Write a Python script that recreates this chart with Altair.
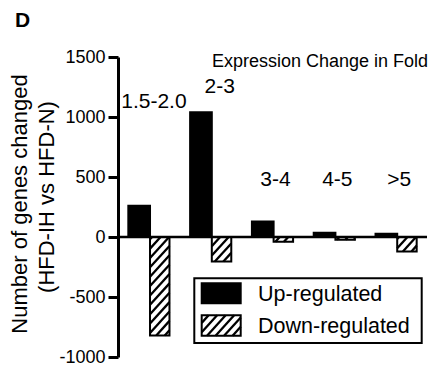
import altair as alt
import pandas as pd

# Fold-change bins and number of genes changed (HFD-IH vs HFD-N)
bins = ["1.5-2.0", "2-3", "3-4", "4-5", ">5"]
up_regulated = [260, 1040, 130, 35, 28]
down_regulated = [-820, -205, -40, -22, -120]

# y-axis tick values
y_ticks = [-1000, -500, 0, 500, 1000, 1500]

# bin label placement: height in gene-count units, horizontal nudge in px
label_y = [1075, 1200, 425, 425, 425]
label_dx = [5, 9, 3, 3, 3]

# ---- layout ----
W, H = 309, 300
Y_MIN, Y_MAX = -1000, 1500
KX = W / len(bins)             # px per bin
KY = H / (Y_MAX - Y_MIN)       # px per gene
UP_X = (0.167, 0.518)          # bar extents inside a bin
DOWN_X = (0.518, 0.833)
FONT = "Liberation Sans"

# hatch: slope of the stripes and their spacing (px)
M = 1.1
STEP = 6.3 * (1 + M * M) ** 0.5

groups = pd.DataFrame({
    "bin": bins,
    "g": list(range(len(bins))),
    "up": up_regulated,
    "down": down_regulated,
    "ly": label_y,
    "ldx": label_dx,
})

xs = alt.Scale(domain=[0, len(bins)], nice=False, zero=False)
ys = alt.Scale(domain=[Y_MIN, Y_MAX], nice=False, zero=False)

y_axis = alt.Axis(
    values=y_ticks, title=None, grid=False,
    labelExpr="'' + datum.value",
    domainColor="black", domainWidth=3,
    tickColor="black", tickWidth=3, tickSize=10,
    labelColor="black", labelFont=FONT, labelFontSize=18, labelPadding=3,
)


def Y(field, **kw):
    return alt.Y(field, scale=ys, axis=y_axis, **kw)


def X(field):
    return alt.X(field, scale=xs, axis=None)


base = alt.Chart(groups)
one = alt.Data(values=[{}])

# up-regulated bars
up_bars = base.transform_calculate(
    x0=f"datum.g + {UP_X[0]}", x1=f"datum.g + {UP_X[1]}", zero="0"
).mark_rect(color="black", stroke="black", strokeWidth=2).encode(
    x=X("x0:Q"), x2="x1:Q", y=Y("up:Q"), y2="zero:Q",
)

down_calc = base.transform_calculate(
    x0=f"datum.g + {DOWN_X[0]}", x1=f"datum.g + {DOWN_X[1]}", zero="0"
)
down_enc = dict(x=X("x0:Q"), x2="x1:Q", y=Y("down:Q"), y2="zero:Q")
down_fill = down_calc.mark_rect(fill="white", strokeWidth=0).encode(**down_enc)
down_edge = down_calc.mark_rect(filled=False, stroke="black", strokeWidth=2).encode(**down_enc)


def hatch(chart):
    """Diagonal stripes clipped to rectangles given in px (xa, xb, ua, ub; u points up)."""
    return chart.transform_calculate(
        ks=f"sequence(floor((datum.ua - {M} * datum.xb) / {STEP}), "
           f"ceil((datum.ub - {M} * datum.xa) / {STEP}) + 1)"
    ).transform_flatten(["ks"]).transform_calculate(
        c=f"datum.ks * {STEP}",
        lo=f"max(datum.xa, (datum.ua - datum.c) / {M})",
        hi=f"min(datum.xb, (datum.ub - datum.c) / {M})",
    ).transform_filter("datum.hi > datum.lo").transform_calculate(
        hx=f"datum.lo / {KX}",
        hy=f"({M} * datum.lo + datum.c) / {KY}",
        hx2=f"datum.hi / {KX}",
        hy2=f"({M} * datum.hi + datum.c) / {KY}",
    ).mark_rule(color="black", strokeWidth=2.3, strokeCap="butt").encode(
        x=X("hx:Q"), x2="hx2:Q", y=Y("hy:Q"), y2="hy2:Q",
    )


down_hatch = hatch(base.transform_calculate(
    xa=f"(datum.g + {DOWN_X[0]}) * {KX}",
    xb=f"(datum.g + {DOWN_X[1]}) * {KX}",
    ua=f"min(datum.down, 0) * {KY}",
    ub=f"max(datum.down, 0) * {KY}",
))

# zero baseline across the plot
zero_line = alt.Chart(one).mark_rule(color="black", strokeWidth=2.5).encode(
    y=alt.Y(datum=0, scale=ys, axis=y_axis),
    x=alt.value(0), x2=alt.value(W),
)

# bin labels
bin_labels = base.transform_calculate(
    lx=f"datum.g + 0.5 + datum.ldx / {KX}"
).mark_text(font=FONT, fontSize=21, color="black", align="center",
            baseline="alphabetic").encode(
    x=X("lx:Q"), y=Y("ly:Q"), text="bin:N",
)


def label(text, x, y, **kw):
    opts = dict(font=FONT, fontSize=18, color="black", baseline="alphabetic")
    opts.update(kw)
    return alt.Chart(one).mark_text(text=text, **opts).encode(
        x=alt.value(x), y=alt.value(y))


header = label("Expression Change in Fold", 310, 10, align="right")
panel = label("D", -103, -30, fontSize=21, fontWeight="bold", align="left")
ytitle1 = label("Number of genes changed", -98, 147, fontSize=22, angle=270,
                align="center", baseline="middle")
ytitle2 = label("(HFD-IH vs HFD-N)", -71, 140, fontSize=22, angle=270,
                align="center", baseline="middle")

# legend (px relative to the plot origin)
LX0, LX1, LY0, LY1 = 76.3, 303.7, 221.3, 286.0
SX0, SX1 = 83.7, 122.7
UP_Y = (226.3, 246.3)
DN_Y = (258.3, 278.7)

legend_box = alt.Chart(one).mark_rect(fill="white", stroke="black", strokeWidth=2).encode(
    x=alt.value(LX0), x2=alt.value(LX1), y=alt.value(LY0), y2=alt.value(LY1))
swatch_up = alt.Chart(one).mark_rect(fill="black", stroke="black", strokeWidth=2).encode(
    x=alt.value(SX0), x2=alt.value(SX1), y=alt.value(UP_Y[0]), y2=alt.value(UP_Y[1]))
swatch_dn_fill = alt.Chart(one).mark_rect(fill="white").encode(
    x=alt.value(SX0), x2=alt.value(SX1), y=alt.value(DN_Y[0]), y2=alt.value(DN_Y[1]))
swatch_dn_hatch = hatch(alt.Chart(one).transform_calculate(
    xa=f"{SX0}", xb=f"{SX1}",
    ua=f"{Y_MAX * KY - DN_Y[1]}", ub=f"{Y_MAX * KY - DN_Y[0]}",
))
swatch_dn_edge = alt.Chart(one).mark_rect(filled=False, stroke="black", strokeWidth=2).encode(
    x=alt.value(SX0), x2=alt.value(SX1), y=alt.value(DN_Y[0]), y2=alt.value(DN_Y[1]))
legend_up = label("Up-regulated", 140, 244, fontSize=21.5, align="left")
legend_dn = label("Down-regulated", 140, 276.3, fontSize=21.5, align="left")

chart = alt.layer(
    up_bars, down_fill, down_hatch, down_edge, zero_line, bin_labels,
    header, panel, ytitle1, ytitle2,
    legend_box, swatch_up, swatch_dn_fill, swatch_dn_hatch, swatch_dn_edge,
    legend_up, legend_dn,
).properties(
    width=W, height=H,
    autosize="none",
    padding={"left": 118, "top": 57, "right": 4, "bottom": 10},
    background="white",
).configure(font=FONT).configure_view(stroke=None, strokeWidth=0)

chart.save("out.html", embed_options={"renderer": "svg", "actions": False})
